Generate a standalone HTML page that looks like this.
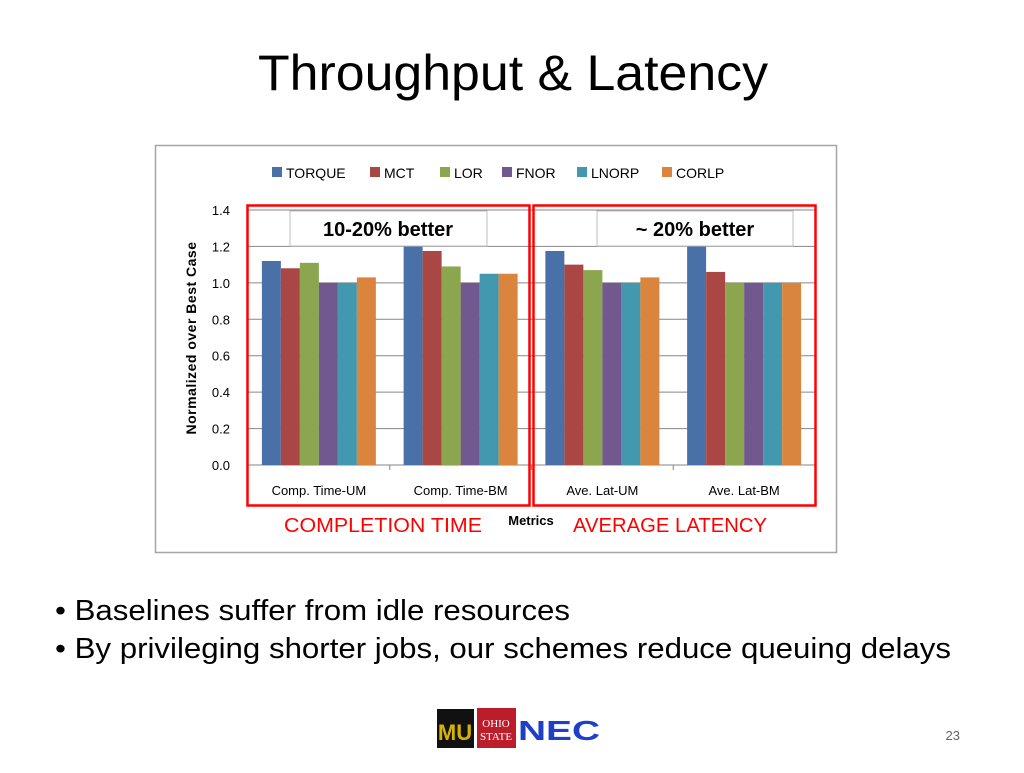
<!DOCTYPE html>
<html><head><meta charset="utf-8"><style>
body{margin:0;background:#fff;width:1024px;height:768px;overflow:hidden;font-family:"Liberation Sans",sans-serif;}
</style></head><body>
<svg width="1024" height="768" xmlns="http://www.w3.org/2000/svg">
<text x="258" y="90" textLength="510" lengthAdjust="spacingAndGlyphs" font-size="50" font-family="Liberation Sans, sans-serif" fill="#000">Throughput &amp; Latency</text>
<rect x="155.5" y="145.5" width="681" height="407" fill="#fff" stroke="#a6a6a6" stroke-width="1.5"/>
<g id="legend"></g>
<g id="grid"></g>
<g id="bars"></g>
<g id="axes"></g>
<rect x="290" y="211" width="197" height="35" fill="#fff" stroke="#bfbfbf"/>
<text x="388" y="236" text-anchor="middle" font-size="20" font-weight="bold">10-20% better</text>
<rect x="597" y="211" width="196" height="35" fill="#fff" stroke="#bfbfbf"/>
<text x="695" y="236" text-anchor="middle" font-size="20" font-weight="bold">~ 20% better</text>
<rect x="247.5" y="205.5" width="282" height="300" fill="none" stroke="#f00" stroke-width="2.5"/>
<rect x="533.5" y="205.5" width="282" height="300" fill="none" stroke="#f00" stroke-width="2.5"/>
<text x="284" y="532" textLength="198" lengthAdjust="spacingAndGlyphs" font-size="20" fill="#f00">COMPLETION TIME</text>
<text x="573" y="532" textLength="194" lengthAdjust="spacingAndGlyphs" font-size="20" fill="#f00">AVERAGE LATENCY</text>
<text x="531" y="525" text-anchor="middle" font-size="13" font-weight="bold">Metrics</text>
<text transform="translate(196,338) rotate(-90)" text-anchor="middle" font-size="14" font-weight="bold" letter-spacing="0.5">Normalized over Best Case</text>
<text x="55" y="620" textLength="515" lengthAdjust="spacingAndGlyphs" font-size="29">• Baselines suffer from idle resources</text>
<text x="55" y="658" textLength="896" lengthAdjust="spacingAndGlyphs" font-size="29">• By privileging shorter jobs, our schemes reduce queuing delays</text>
<g>
<rect x="437" y="709" width="37" height="39" fill="#111"/>
<text x="455" y="740" text-anchor="middle" font-size="22" font-weight="bold" fill="#d4b300">MU</text>
<rect x="477" y="708" width="39" height="40" fill="#bb1e2a"/>
<text x="496" y="727" text-anchor="middle" font-size="11" fill="#fff" font-family="Liberation Serif, serif">OHIO</text>
<text x="496" y="740" text-anchor="middle" font-size="11" fill="#fff" font-family="Liberation Serif, serif">STATE</text>
<text x="518" y="740" textLength="82" lengthAdjust="spacingAndGlyphs" font-size="28" font-weight="bold" fill="#1f3fc8">NEC</text>
</g>
<text x="960" y="740" text-anchor="end" font-size="13" fill="#666">23</text>
</svg>
<script>
const categories=["Comp. Time-UM","Comp. Time-BM","Ave. Lat-UM","Ave. Lat-BM"];
const seriesNames=["TORQUE","MCT","LOR","FNOR","LNORP","CORLP"];
const seriesColors=["#4a70a8","#aa4644","#8ba64e","#71588f","#4198af","#db843d"];
const torque=[1.12,1.2,1.175,1.2];
const mct=[1.08,1.175,1.10,1.06];
const lor=[1.11,1.09,1.07,1.0];
const fnor=[1.0,1.0,1.0,1.0];
const lnorp=[1.0,1.05,1.0,1.0];
const corlp=[1.03,1.05,1.03,1.0];
const yTicks=[0,0.2,0.4,0.6,0.8,1.0,1.2,1.4];
const series=[torque,mct,lor,fnor,lnorp,corlp];
const NS="http://www.w3.org/2000/svg";
const X0=248,X1=815,Y0=465,Y1=210,YMAX=1.4;
const y=v=>Y0-(v/YMAX)*(Y0-Y1);
const bandW=(X1-X0)/categories.length;
const x=i=>X0+i*bandW;
function mk(tag,attrs,parent){const e=document.createElementNS(NS,tag);for(const k in attrs)e.setAttribute(k,attrs[k]);parent.appendChild(e);return e;}
const grid=document.getElementById('grid'),bars=document.getElementById('bars'),axes=document.getElementById('axes'),legend=document.getElementById('legend');
yTicks.forEach(t=>{
 const l=mk('line',{x1:X0,x2:X1,y1:y(t),y2:y(t),stroke:'#868686','stroke-width':1},grid);
 
 
 const tx=mk('text',{x:X0-18,y:y(t)+5,'text-anchor':'end','font-size':13},axes);
 tx.textContent=t.toFixed(1);
 
 
});
mk('line',{x1:X0,x2:X0,y1:Y1,y2:Y0,stroke:'#868686'},axes);
const bw=19,gw=bw*seriesNames.length;
categories.forEach((c,i)=>{
 const cx=x(i)+bandW/2;
 series.forEach((s,j)=>{
  const r=mk('rect',{x:cx-gw/2+j*bw,y:y(s[i]),width:bw,height:Y0-y(s[i]),fill:seriesColors[j]},bars);
  
  
 });
 const t=mk('text',{x:cx,y:495,'text-anchor':'middle','font-size':13},axes);
 t.textContent=c;
 
 
 if(i>0){mk('line',{x1:x(i),x2:x(i),y1:Y0,y2:Y0+5,stroke:'#868686'},axes);}
});
const legX=[272,370,440,502,577,662];
seriesNames.forEach((n,j)=>{
 const g=mk('g',{},legend);
 
 
 mk('rect',{x:legX[j],y:167,width:10,height:10,fill:seriesColors[j]},g);
 const t=mk('text',{x:legX[j]+14,y:178,'font-size':14},g);
 t.textContent=n;
});
</script>
</body></html>
